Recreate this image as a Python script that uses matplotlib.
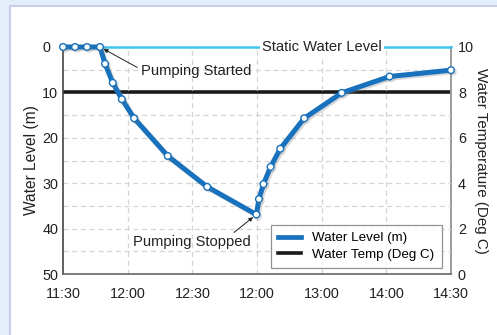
import numpy as np
import matplotlib.pyplot as plt
import matplotlib.patheffects as pe
from matplotlib.patches import Rectangle
from matplotlib.lines import Line2D

plt.rcParams['font.family'] = ['Liberation Sans', 'DejaVu Sans']

# time axis: evenly spaced tick positions with the labels as printed
tick_labels = ['11:30', '12:00', '12:30', '12:00', '13:00', '14:00', '14:30']

# water level readings (position along time axis, metres below top)
level_t = [0, 0.186, 0.371, 0.572, 0.65, 0.77, 0.91, 1.10, 1.62, 2.23,
           2.99, 3.03, 3.10, 3.21, 3.36, 3.73, 4.31, 5.05, 6.0]
level_m = [0, 0, 0, 0, 3.7, 7.9, 11.5, 15.7, 24.0, 30.8,
           36.9, 33.5, 30.2, 26.4, 22.4, 15.7, 10.1, 6.5, 5.1]

# water temperature (deg C)
temp_t = [0, 6]
temp_c = [8, 8]

static_level = 0
pump_start = 3   # index of reading when pumping started
pump_stop = 10   # index of reading when pumping stopped

blue = '#1771bd'
light_blue = '#3fc4ef'
txt = '#222222'

fig = plt.figure(figsize=(4.97, 3.35), dpi=100)
fig.patch.set_facecolor('#e3eefa')
fig.patches.append(Rectangle((10 / 497, -0.05), 1.0, 1 - 6 / 335 + 0.05,
                             transform=fig.transFigure, facecolor='white',
                             edgecolor='#c9cdea', linewidth=1.5, zorder=-5))

ax = fig.add_axes([63 / 497, 61 / 335, 388 / 497, 227 / 335])
ax2 = ax.twinx()
ax.set_zorder(ax2.get_zorder() + 1)
ax.patch.set_visible(False)
ax2.patch.set_visible(False)

ax.set_xlim(0, 6)
ax.set_ylim(50, 0)
ax2.set_ylim(0, 10)

# grid
for y in np.arange(5, 50, 5):
    if y != 10:
        ax.axhline(y, color='#d4d4d4', lw=0.9, ls=(0, (4, 3)), zorder=0.5)
for x in range(1, 6):
    ax.axvline(x, color='#d4d4d4', lw=0.9, ls=(0, (4, 3)), zorder=0.5)

# temperature
ax2.plot(temp_t, temp_c, color='#1a1a1a', lw=2.6, solid_capstyle='butt')

# static water level
ax.plot([level_t[pump_start], 6], [static_level, static_level], color=light_blue,
        lw=1.8, zorder=2, clip_on=False)
ax.text(4, static_level, 'Static Water Level', ha='center', va='center',
        fontsize=10.6, color=txt, zorder=3,
        bbox=dict(facecolor='white', edgecolor='none', pad=1.5))

# water level curve
ax.plot(level_t, level_m, color=blue, lw=3.6, marker='o', ms=4.8,
        mfc='white', mec=blue, mew=1.0, zorder=4, solid_joinstyle='round',
        clip_on=False,
        path_effects=[pe.SimpleLineShadow(offset=(1.2, -1.2), shadow_color='gray',
                                          alpha=0.3), pe.Normal()])

# annotations
ax.annotate('Pumping Started', xy=(level_t[pump_start], level_m[pump_start]),
            xytext=(1.21, 5.3), ha='left', va='center', fontsize=10.6,
            color=txt, zorder=5,
            arrowprops=dict(arrowstyle='-|>', color=txt, lw=0.7,
                            mutation_scale=6, shrinkA=1, shrinkB=3,
                            relpos=(0, 0.6)))
ax.annotate('Pumping Stopped', xy=(level_t[pump_stop], level_m[pump_stop]),
            xytext=(1.08, 43.0), ha='left', va='center', fontsize=10.6,
            color=txt, zorder=5,
            arrowprops=dict(arrowstyle='-|>', color=txt, lw=0.7,
                            mutation_scale=6, shrinkA=0, shrinkB=3,
                            relpos=(0.83, 1.0)))

# axes styling
ax.set_xticks(range(7))
ax.set_xticklabels(tick_labels)
ax.set_yticks(range(0, 51, 10))
ax2.set_yticks(range(0, 11, 2))
ax.tick_params(axis='x', length=0, pad=9, labelsize=10.4, labelcolor=txt)
ax.tick_params(axis='y', length=0, pad=15, labelsize=10.4, labelcolor=txt)
for lab in ax.get_yticklabels():
    lab.set_horizontalalignment('left')
ax2.tick_params(axis='y', length=0, pad=5, labelsize=10.4, labelcolor=txt)
for a in (ax, ax2):
    a.spines['top'].set_visible(False)
ax.spines['right'].set_visible(False)
ax2.spines['left'].set_visible(False)
ax2.spines['bottom'].set_visible(False)
ax.spines['left'].set_color('#444444')
ax.spines['bottom'].set_color('#666666')
ax.spines['left'].set_linewidth(1.2)
ax.spines['bottom'].set_linewidth(1.2)
ax2.spines['right'].set_color('#9a9a9a')
ax2.spines['right'].set_linewidth(1.4)

ax.set_ylabel('Water Level (m)', fontsize=11.2, color=txt)
ax.yaxis.set_label_coords(-0.062, 0.5)
ax2.set_ylabel('Water Temperature (Deg C)', fontsize=10.9, color=txt,
               rotation=270, labelpad=10)

handles = [Line2D([], [], color=blue, lw=3.4),
           Line2D([], [], color='#1a1a1a', lw=2.6)]
leg = ax.legend(handles, ['Water Level (m)', 'Water Temp (Deg C)'],
                loc='lower right', bbox_to_anchor=(0.977, 0.026), fontsize=9.6,
                frameon=True, fancybox=False, handlelength=1.73,
                handletextpad=0.83, borderpad=0.55, labelspacing=0.3,
                borderaxespad=0)
leg.get_frame().set_edgecolor('#777777')
leg.get_frame().set_linewidth(0.9)
leg.set_zorder(6)

fig.savefig('out.png', dpi=100)
